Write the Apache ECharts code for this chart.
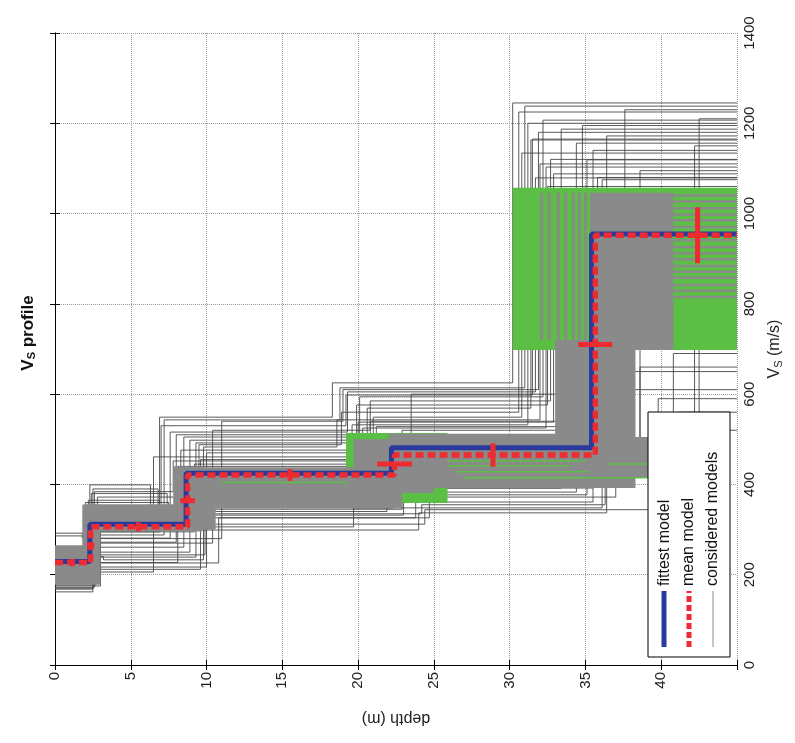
<!DOCTYPE html>
<html>
<head>
<meta charset="utf-8">
<script src="https://cdn.jsdelivr.net/npm/echarts@6/dist/echarts.min.js"></script>
<style>
html, body { margin: 0; padding: 0; background: #fff; }
#vsChart { width: 795px; height: 743px; }
</style>
</head>
<body>
<div id="vsChart"></div>
<script>
// depth ticks (m) and Vs ticks (m/s)
const depthTicks = [0, 5, 10, 15, 20, 25, 30, 35, 40]
const vsTicks = [0, 200, 400, 600, 800, 1000, 1200, 1400]
const depthMax = 45

// fittest / mean model: interface depths and layer velocities
const fittestDepth = [2.3, 8.65, 22.2, 35.4]
const fittestVs = [229, 312, 425, 481, 955]
const meanDepth = [2.35, 8.75, 22.4, 35.65]
const meanVs = [227, 306, 421, 465, 952]

// mean model std bars: [depth, vs, err]
const vsErrBars = [[1.15, 227, 8], [5.5, 306, 10], [15.5, 421, 13], [28.9, 465, 26], [42.4, 952, 62]]
const depthErrBars = [[2.35, 266, 0.25], [8.75, 364, 0.48], [22.4, 445, 1.15], [35.65, 710, 1.12]]

// considered models (single lines): h1..h4, v1..v5
const consideredModels = [
	[2.5, 6.9, 18.3, 30.2, 168, 295, 549, 625, 1245],
	[2.2, 7.2, 18.8, 31.0, 230, 288, 543, 614, 1238],
	[1.8, 7.6, 19.3, 31.7, 292, 281, 516, 605, 1079],
	[2.6, 8.0, 20.1, 32.2, 172, 272, 510, 594, 1207],
	[2.4, 8.5, 19.9, 32.5, 205, 261, 505, 576, 1060],
	[2.1, 8.9, 20.6, 31.4, 250, 250, 498, 569, 1163],
	[2.9, 9.3, 21.0, 30.8, 215, 239, 492, 549, 1134],
	[3.2, 9.8, 18.6, 32.0, 240, 233, 483, 543, 1110],
	[2.0, 10.0, 19.6, 31.2, 260, 217, 470, 532, 1200],
	[2.7, 6.5, 20.3, 32.4, 177, 206, 461, 525, 1103],
	[2.3, 6.3, 21.9, 33.4, 225, 399, 340, 392, 1187],
	[2.5, 6.8, 22.3, 34.4, 240, 390, 348, 383, 1156],
	[2.4, 7.4, 23.0, 35.1, 210, 380, 332, 377, 1119],
	[2.8, 7.9, 24.7, 35.5, 190, 372, 326, 361, 1140],
	[2.2, 6.9, 19.7, 36.1, 235, 365, 306, 348, 1075],
	[2.0, 7.5, 24.0, 36.4, 255, 360, 299, 337, 1172],
	[2.3, 8.6, 22.5, 38.2, 222, 300, 415, 470, 610],
	[2.4, 8.8, 22.0, 38.6, 230, 320, 430, 455, 660],
	[2.2, 8.4, 22.8, 39.5, 215, 310, 410, 480, 520],
	[2.5, 9.0, 21.8, 40.8, 235, 330, 425, 445, 690],
	[2.3, 8.7, 22.6, 41.2, 228, 305, 418, 500, 560],
	[2.3, 8.6, 22.4, 42.2, 225, 315, 420, 470, 1150],
	[2.4, 8.8, 22.1, 42.5, 232, 298, 428, 462, 1210],
	[2.3, 8.5, 22.3, 37.6, 220, 308, 422, 475, 1230],
	[2.4, 8.7, 22.6, 38.6, 226, 318, 416, 458, 1095],
	[2.5, 8.2, 22.0, 34.0, 162, 300, 430, 470, 1020],
	[3.0, 8.9, 21.5, 35.0, 175, 325, 412, 486, 880],
	[2.6, 9.2, 22.9, 33.3, 200, 295, 445, 520, 990],
	[2.1, 8.1, 23.5, 35.8, 245, 227, 440, 600, 1080],
	[2.7, 9.6, 20.8, 33.1, 185, 212, 455, 540, 940],
	[2.4, 11.0, 19.0, 31.9, 230, 280, 540, 610, 1180],
	[2.2, 10.4, 20.8, 32.7, 220, 270, 520, 585, 1120],
	[2.3, 8.7, 24.2, 36.3, 228, 310, 335, 355, 900],
	[2.4, 8.4, 22.9, 35.5, 232, 305, 345, 392, 780],
	[2.3, 7.0, 19.2, 31.5, 226, 300, 530, 598, 1165],
	[2.4, 9.5, 18.9, 30.6, 231, 305, 488, 560, 1225],
	[2.2, 8.3, 20.0, 32.9, 224, 318, 476, 538, 1088],
	[2.6, 7.8, 21.2, 34.8, 180, 384, 452, 528, 1195],
	[2.5, 10.8, 23.8, 37.0, 170, 226, 326, 372, 650],
	[1.9, 9.9, 24.4, 39.8, 286, 244, 312, 344, 590]
]

// dense cloud of considered models: [depthFrom, depthTo, vsLow, vsHigh]
const greyCloud = [
	[0, 2.5, 178, 265],
	[1.8, 3.0, 178, 355],
	[1.9, 9.2, 296, 356],
	[7.8, 9.7, 296, 440],
	[8.0, 10.6, 300, 360],
	[8.6, 22.9, 348, 438],
	[19.7, 25.0, 381, 500],
	[22.0, 36.5, 392, 512],
	[33.0, 38.3, 392, 720],
	[35.3, 40.8, 698, 1046],
	[36.5, 39.3, 415, 505]
]
// green model blocks: [depthFrom, depthTo, vsLow, vsHigh]
const greenBlocks = [
	[19.2, 25.9, 359, 514],
	[30.2, 45, 698, 1057]
]
// green single lines: [depthFrom, depthTo, vs]
const greenLines = [
	[25.9, 35.0, 452], [25.9, 34.0, 441], [26.5, 35.2, 428], [27.0, 39.5, 415],
	[36.5, 39.5, 445], [11.0, 19.3, 404]
]
// grey half-space lines over the green block
const greyStripeVs = [815, 829, 842, 858, 871, 884, 899, 912, 926, 941, 957, 970, 985, 998, 1012, 1027, 1040]
const greyStripeDepth = [32.1, 32.6, 33.2, 33.7, 34.2, 34.6, 35.0]

function stepLine(h, v) {
	let pts = [[0, v[0]]]
	for (let i = 0; i < h.length; i++) {
		pts.push([h[i], v[i]], [h[i], v[i + 1]])
	}
	pts.push([depthMax, v[v.length - 1]])
	return pts
}

function rectSeries(data, color, z) {
	return {
		type: "custom",
		silent: true,
		z: z,
		renderItem(params, api) {
			let a = api.coord([api.value(0), api.value(3)])
			let b = api.coord([api.value(1), api.value(2)])
			return {
				type: "rect",
				shape: { x: a[0], y: a[1], width: b[0] - a[0], height: b[1] - a[1] },
				style: { fill: color }
			}
		},
		data: data
	}
}

// segments: [x0, y0, x1, y1]
function segSeries(data, color, width, z) {
	return {
		type: "custom",
		silent: true,
		z: z,
		renderItem(params, api) {
			let a = api.coord([api.value(0), api.value(1)])
			let b = api.coord([api.value(2), api.value(3)])
			return {
				type: "line",
				shape: { x1: a[0], y1: a[1], x2: b[0], y2: b[1] },
				style: { stroke: color, lineWidth: width }
			}
		},
		data: data
	}
}

let series = []
consideredModels.forEach(m => {
	series.push({
		type: "line",
		silent: true,
		symbol: "none",
		z: 1,
		lineStyle: { color: "#474747", width: 0.9 },
		data: stepLine(m.slice(0, 4), m.slice(4))
	})
})
series.push(rectSeries(greenBlocks, "#5cbf45", 2))
series.push(rectSeries(greyCloud, "#8a8a8a", 3))
series.push(segSeries(greyStripeVs.map(v => [40.8, v, depthMax, v]), "#8a8a8a", 2.5, 4))
series.push(segSeries(greyStripeDepth.map(d => [d, 720, d, 1046]), "#8a8a8a", 3, 4))
series.push(segSeries(greenLines.map(g => [g[0], g[2], g[1], g[2]]), "#5cbf45", 1.5, 4))
series.push({
	type: "line",
	silent: true,
	symbol: "none",
	z: 5,
	lineStyle: { color: "#2a3a9c", width: 5 },
	data: stepLine(fittestDepth, fittestVs)
})
series.push({
	type: "line",
	silent: true,
	symbol: "none",
	z: 6,
	lineStyle: { color: "#ee2b30", width: 5.5, type: [8, 4] },
	data: stepLine(meanDepth, meanVs)
})
let errSegs = vsErrBars.map(e => [e[0], e[1] - e[2], e[0], e[1] + e[2]])
	.concat(depthErrBars.map(e => [e[0] - e[2], e[1], e[0] + e[2], e[1]]))
series.push(segSeries(errSegs, "#ee2b30", 5, 7))

const axisFont = { fontFamily: "Liberation Sans, Arial, sans-serif", fontSize: 15, color: "#222" }

let option = {
	animation: false,
	grid: { left: 55, right: 58, top: 33, bottom: 78 },
	xAxis: [
		{
			type: "value", min: 0, max: depthMax, interval: 5, position: "bottom",
			axisLine: { lineStyle: { color: "#000", width: 1 } },
			axisTick: { inside: true, length: 5, lineStyle: { color: "#000" } },
			axisLabel: Object.assign({ rotate: 90, margin: 7,
				formatter: v => depthTicks.indexOf(v) >= 0 ? String(v) : "" }, axisFont),
			splitLine: { show: true, lineStyle: { type: "dotted", color: "#9a9a9a", width: 1 } },
			name: "depth (m)", nameLocation: "middle", nameRotate: 180, nameGap: 45,
			nameTextStyle: { fontFamily: "Liberation Sans, Arial, sans-serif", fontSize: 16, color: "#222" }
		},
		{
			type: "value", min: 0, max: depthMax, interval: 5, position: "top",
			axisLine: { lineStyle: { color: "#000", width: 1 } },
			axisTick: { inside: true, length: 5, lineStyle: { color: "#000" } },
			axisLabel: { show: false }, splitLine: { show: false }
		}
	],
	yAxis: [
		{
			type: "value", min: 0, max: 1400, interval: 200, position: "right",
			axisLine: { show: true, lineStyle: { color: "#000", width: 1 } },
			axisTick: { show: true, inside: true, length: 5, lineStyle: { color: "#000" } },
			axisLabel: Object.assign({ rotate: 90, margin: 5,
				formatter: v => vsTicks.indexOf(v) >= 0 ? String(v) : "" }, axisFont),
			splitLine: { show: true, lineStyle: { type: "dotted", color: "#9a9a9a", width: 1 } },
			name: "{a|V}{s|S}{a| (m/s)}", nameLocation: "middle", nameRotate: 90, nameGap: 28,
			nameTextStyle: {
				rich: {
					a: { fontFamily: "Liberation Sans, Arial, sans-serif", fontSize: 16, color: "#222" },
					s: { fontFamily: "Liberation Sans, Arial, sans-serif", fontSize: 11, color: "#222", verticalAlign: "bottom", padding: [8, 0, 0, 0] }
				}
			}
		},
		{
			type: "value", min: 0, max: 1400, interval: 200, position: "left",
			axisLine: { show: true, lineStyle: { color: "#000", width: 1 } },
			axisTick: { show: true, inside: true, length: 5, lineStyle: { color: "#000" } },
			axisLabel: { show: false }, splitLine: { show: false }
		}
	],
	graphic: [
		{
			type: "text", x: 28, y: 333, rotation: Math.PI / 2, z: 100,
			style: {
				text: "{a|V}{s|S}{a| profile}", align: "center", verticalAlign: "middle",
				rich: {
					a: { fontFamily: "Liberation Sans, Arial, sans-serif", fontSize: 17, fontWeight: "bold", fill: "#111" },
					s: { fontFamily: "Liberation Sans, Arial, sans-serif", fontSize: 11, fontWeight: "bold", fill: "#111", padding: [8, 0, 0, 0] }
				}
			}
		},
		{ type: "rect", z: 100, shape: { x: 648, y: 412, width: 82, height: 245 },
			style: { fill: "#fff", stroke: "#000", lineWidth: 1 } },
		{ type: "line", z: 101, shape: { x1: 664, y1: 647, x2: 664, y2: 591 },
			style: { stroke: "#2a3a9c", lineWidth: 5 } },
		{ type: "line", z: 101, shape: { x1: 689, y1: 647, x2: 689, y2: 591 },
			style: { stroke: "#ee2b30", lineWidth: 5, lineDash: [6, 3] } },
		{ type: "line", z: 101, shape: { x1: 713, y1: 647, x2: 713, y2: 591 },
			style: { stroke: "#8a8a8a", lineWidth: 1 } },
		{ type: "text", z: 101, x: 665, y: 586, rotation: Math.PI / 2,
			style: { text: "fittest model", align: "left", verticalAlign: "middle",
				font: "16px Liberation Sans, Arial, sans-serif", fill: "#111" } },
		{ type: "text", z: 101, x: 689, y: 586, rotation: Math.PI / 2,
			style: { text: "mean model", align: "left", verticalAlign: "middle",
				font: "16px Liberation Sans, Arial, sans-serif", fill: "#111" } },
		{ type: "text", z: 101, x: 713, y: 586, rotation: Math.PI / 2,
			style: { text: "considered models", align: "left", verticalAlign: "middle",
				font: "16px Liberation Sans, Arial, sans-serif", fill: "#111" } }
	],
	series: series
}

var myChart = echarts.init(document.getElementById("vsChart"))
myChart.setOption(option)
</script>
</body>
</html>
